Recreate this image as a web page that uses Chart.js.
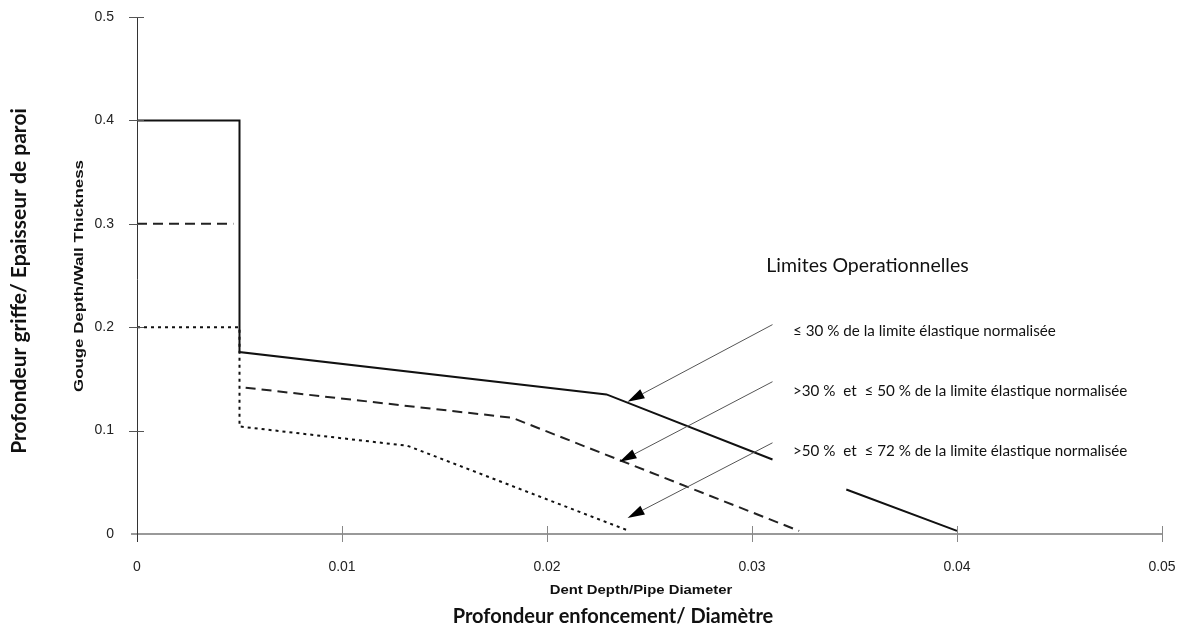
<!DOCTYPE html>
<html><head><meta charset="utf-8">
<script src="https://cdn.jsdelivr.net/npm/chart.js@4.4.1/dist/chart.umd.min.js"></script>
<style>html,body{margin:0;padding:0;background:#fff;} #wrap{width:1178px;height:626px;}</style>
</head><body><div id="wrap"><canvas id="c" width="1178" height="626"></canvas></div>
<script>
// ---- data ----
const xTicks = [0, 0.01, 0.02, 0.03, 0.04, 0.05];
const xTickLabels = ['0', '0.01', '0.02', '0.03', '0.04', '0.05'];
const yTicks = [0, 0.1, 0.2, 0.3, 0.4, 0.5];
const yTickLabels = ['0', '0.1', '0.2', '0.3', '0.4', '0.5'];

const seriesNames = [
  '\u2264 30 % de la limite \u00e9lastique normalis\u00e9e',
  '>30 %  et  \u2264 50 % de la limite \u00e9lastique normalis\u00e9e',
  '>50 %  et  \u2264 72 % de la limite \u00e9lastique normalis\u00e9e'
];

// solid: <= 30 %
const solidX = [0, 0.005, 0.005, 0.0229, 0.0310, 0.0328, 0.0346, 0.0400];
const solidY = [0.400, 0.400, 0.176, 0.135, 0.072, null, 0.043, 0.003];
// dashed: >30 % and <= 50 %
const dashedX = [0, 0.0047, 0.0050, 0.0053, 0.0183, 0.0323];
const dashedY = [0.300, 0.300, null, 0.1415, 0.1124, 0.003];
// dotted: >50 % and <= 72 %
const dottedX = [0, 0.005, 0.005, 0.0132, 0.0240];
const dottedY = [0.200, 0.200, 0.104, 0.0853, 0.003];

// arrows: [startX, startY, tipX, tipY] in data units
const arrow1 = [0.0310, 0.2025, 0.02393, 0.1279];
const arrow2 = [0.0310, 0.1473, 0.02354, 0.0698];
const arrow3 = [0.0310, 0.0882, 0.02393, 0.0155];

const legendTitle = 'Limites Operationnelles';
const xTitleEn = 'Dent Depth/Pipe Diameter';
const xTitleFr = 'Profondeur enfoncement/ Diam\u00e8tre';
const yTitleEn = 'Gouge Depth/Wall Thickness';
const yTitleFr = 'Profondeur griffe/ Epaisseur de paroi';

function pts(xs, ys) { return xs.map((x, i) => ({x: x, y: ys[i]})); }

const overlay = {
  id: 'overlay',
  afterDraw(chart) {
    const ctx = chart.ctx;
    const sx = chart.scales.x, sy = chart.scales.y;
    const px = v => sx.getPixelForValue(v), py = v => sy.getPixelForValue(v);
    const ca = chart.chartArea;
    ctx.save();
    // axes
    ctx.lineCap = 'butt';
    ctx.strokeStyle = '#999';
    ctx.lineWidth = 2;
    ctx.beginPath(); ctx.moveTo(ca.left - 6, py(0)); ctx.lineTo(px(0.05), py(0)); ctx.stroke();
    ctx.strokeStyle = '#333';
    ctx.lineWidth = 1;
    ctx.beginPath(); ctx.moveTo(px(0) + 0.5, py(0.5)); ctx.lineTo(px(0) + 0.5, py(0) + 8); ctx.stroke();
    // y ticks
    ctx.strokeStyle = '#555';
    yTicks.forEach(v => {
      if (v === 0) return;
      ctx.beginPath(); ctx.moveTo(px(0) - 8, Math.round(py(v)) + 0.5); ctx.lineTo(px(0) + 7, Math.round(py(v)) + 0.5); ctx.stroke();
    });
    // x ticks
    ctx.strokeStyle = '#888';
    xTicks.forEach(v => {
      if (v === 0) return;
      ctx.beginPath(); ctx.moveTo(Math.round(px(v)) + 0.5, py(0) - 8); ctx.lineTo(Math.round(px(v)) + 0.5, py(0) + 8); ctx.stroke();
    });
    // arrows
    [arrow1, arrow2, arrow3].forEach(a => {
      const x0 = px(a[0]), y0 = py(a[1]), x1 = px(a[2]), y1 = py(a[3]);
      const ang = Math.atan2(y1 - y0, x1 - x0);
      const L = 17, W = 5;
      const bx = x1 - L * Math.cos(ang), by = y1 - L * Math.sin(ang);
      ctx.strokeStyle = '#555'; ctx.lineWidth = 1;
      ctx.beginPath(); ctx.moveTo(x0, y0); ctx.lineTo(bx, by); ctx.stroke();
      ctx.fillStyle = '#000';
      ctx.beginPath();
      ctx.moveTo(x1, y1);
      ctx.lineTo(bx + W * Math.sin(ang), by - W * Math.cos(ang));
      ctx.lineTo(bx - W * Math.sin(ang), by + W * Math.cos(ang));
      ctx.closePath(); ctx.fill();
    });
    // legend texts
    ctx.fillStyle = '#111';
    ctx.textBaseline = 'middle';
    ctx.textAlign = 'left';
    ctx.font = '19.5px Lato';
    ctx.fillText(legendTitle, px(0.0307), py(0.2597));
    ctx.font = '15.2px Lato';
    ctx.fillText(seriesNames[0], px(0.0320), py(0.1967));
    ctx.fillText(seriesNames[1], px(0.0320), py(0.1386));
    ctx.fillText(seriesNames[2], px(0.0320), py(0.0804));
    // axis titles
    ctx.textAlign = 'center';
    ctx.save();
    ctx.translate(641, 591); ctx.scale(1.19, 1);
    ctx.font = 'bold 12.5px "Liberation Sans", Arial';
    ctx.fillText(xTitleEn, 0, 0);
    ctx.restore();
    ctx.font = 'bold 20px Lato';
    ctx.fillText(xTitleFr, 613, 617);
    ctx.save();
    ctx.translate(79, 276); ctx.rotate(-Math.PI / 2); ctx.scale(1.25, 1);
    ctx.font = 'bold 13.5px "Liberation Sans", Arial';
    ctx.fillText(yTitleEn, 0, 0);
    ctx.restore();
    ctx.save();
    ctx.translate(19, 281); ctx.rotate(-Math.PI / 2);
    ctx.font = 'bold 21px Lato';
    ctx.fillText(yTitleFr, 0, 0);
    ctx.restore();
    ctx.restore();
  }
};

new Chart(document.getElementById('c'), {
  type: 'line',
  data: {
    datasets: [
      { label: seriesNames[0], data: pts(solidX, solidY), borderColor: '#111', borderWidth: 2, pointRadius: 0, spanGaps: false, tension: 0 },
      { label: seriesNames[1], data: pts(dashedX, dashedY), borderColor: '#222', borderWidth: 2, borderDash: [10, 6], pointRadius: 0, spanGaps: false, tension: 0 },
      { label: seriesNames[2], data: pts(dottedX, dottedY), borderColor: '#111', borderWidth: 2, borderDash: [3, 4], pointRadius: 0, spanGaps: false, tension: 0 }
    ]
  },
  options: {
    responsive: false,
    animation: false,
    devicePixelRatio: 1,
    layout: { padding: { left: 0, right: 16, top: 17, bottom: 0 } },
    plugins: { legend: { display: false }, tooltip: { enabled: false } },
    scales: {
      x: {
        type: 'linear', min: 0, max: 0.05,
        grid: { display: false, drawTicks: false }, border: { display: false },
        afterBuildTicks: s => { s.ticks = xTicks.map(v => ({ value: v })); },
        afterFit: s => { s.height = 92; s.paddingLeft = 0; s.paddingRight = 0; },
        ticks: { padding: 25, color: '#222', font: { family: '"Liberation Sans", Arial', size: 14 }, maxRotation: 0,
          callback: (v, i) => xTickLabels[i] }
      },
      y: {
        type: 'linear', min: 0, max: 0.5,
        grid: { display: false, drawTicks: false }, border: { display: false },
        afterBuildTicks: s => { s.ticks = yTicks.map(v => ({ value: v })); },
        afterFit: s => { s.width = 137; s.paddingTop = 0; s.paddingBottom = 0; },
        ticks: { padding: 23, color: '#222', font: { family: '"Liberation Sans", Arial', size: 14 },
          callback: (v, i) => yTickLabels[i] }
      }
    }
  },
  plugins: [overlay]
});
</script>
</body></html>
